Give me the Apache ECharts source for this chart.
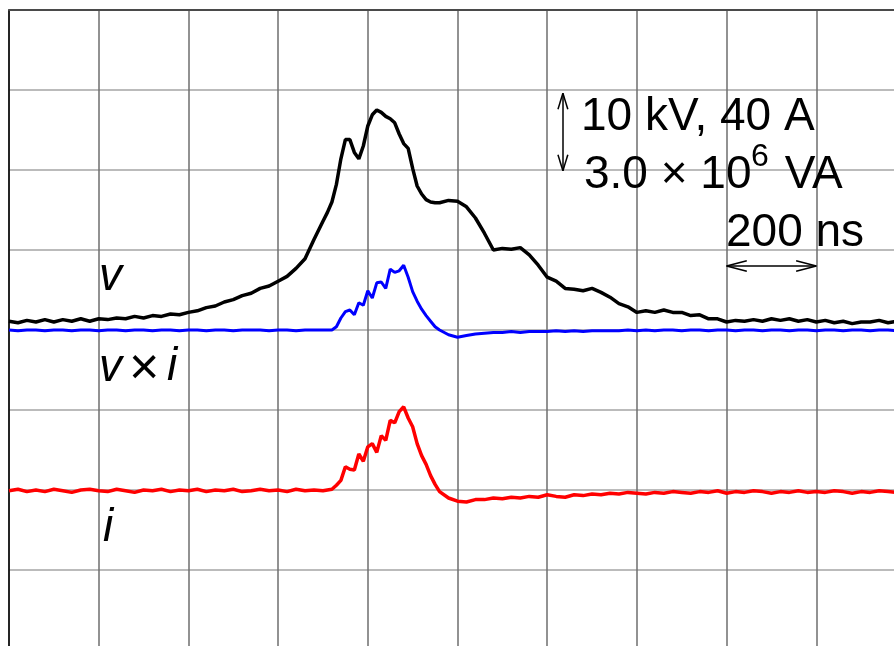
<!DOCTYPE html>
<html>
<head>
<meta charset="utf-8">
<script src="https://cdn.jsdelivr.net/npm/echarts@6/dist/echarts.min.js"></script>
<style>
  html, body { margin: 0; padding: 0; background: #fff; overflow: hidden; }
  /* the screen is 10 x 8 divisions; its right and bottom edges fall outside the 894x646 window */
  #scope { width: 906px; height: 650px; }
</style>
</head>
<body>
<div id="scope"></div>
<script>
// time base, ns (200 ns per division); finer steps across the pulse
const timeNs = [
  0, 20, 40, 60, 80, 100, 120, 140, 160, 180,
  200, 220, 240, 260, 280, 300, 320, 340, 360, 380,
  400, 420, 440, 460, 480, 500, 520, 540, 560, 580,
  600, 620, 640, 660, 680,
  700, 710, 720, 730, 740, 750, 760, 770, 780, 790,
  800, 810, 820, 830, 840, 850, 860, 870, 880, 890,
  900, 910, 920, 930, 940, 950, 960,
  980, 1000, 1020, 1040, 1060, 1080, 1100, 1120, 1140, 1160, 1180,
  1200, 1220, 1240, 1260, 1280, 1300, 1320, 1340, 1360, 1380,
  1400, 1420, 1440, 1460, 1480, 1500, 1520, 1540, 1560, 1580,
  1600, 1620, 1640, 1660, 1680, 1700, 1720, 1740, 1760, 1780,
  1800, 1820, 1840, 1860, 1880, 1900, 1920, 1940, 1960, 1980
]

// trace positions on the screen, in divisions (0 = bottom, 8 = top)
const vTrace = [
  4.11, 4.09, 4.12, 4.10, 4.13, 4.10, 4.13, 4.11, 4.14, 4.11,
  4.14, 4.13, 4.15, 4.14, 4.17, 4.15, 4.18, 4.17, 4.20, 4.19,
  4.22, 4.24, 4.28, 4.30, 4.35, 4.38, 4.43, 4.46, 4.52, 4.55,
  4.61, 4.67, 4.77, 4.89, 5.13,
  5.36, 5.47, 5.60, 5.82, 6.14, 6.38, 6.38, 6.22, 6.14, 6.30,
  6.55, 6.69, 6.75, 6.72, 6.67, 6.64, 6.59, 6.45, 6.33, 6.27,
  6.02, 5.80, 5.70, 5.63, 5.60, 5.59, 5.59,
  5.62, 5.61, 5.54, 5.40, 5.21, 5.00, 5.02, 5.01, 5.03, 4.94, 4.81,
  4.66, 4.61, 4.52, 4.51, 4.49, 4.52, 4.47, 4.41, 4.33, 4.29,
  4.22, 4.24, 4.22, 4.25, 4.22, 4.22, 4.18, 4.19, 4.14, 4.14,
  4.10, 4.12, 4.11, 4.13, 4.11, 4.14, 4.12, 4.14, 4.11, 4.13,
  4.10, 4.12, 4.09, 4.11, 4.08, 4.10, 4.10, 4.12, 4.09, 4.11
]

const viTrace = [
  4.00, 3.99, 4.00, 4.00, 3.99, 4.00, 4.00, 3.99, 4.00, 4.00,
  3.99, 4.00, 4.00, 3.99, 4.00, 4.00, 3.99, 4.00, 4.00, 3.99,
  4.00, 4.00, 3.99, 4.00, 4.00, 3.99, 4.00, 4.00, 4.00, 3.99,
  4.00, 4.00, 3.99, 4.00, 4.00,
  4.00, 4.00, 4.00, 4.04, 4.15, 4.23, 4.25, 4.19, 4.34, 4.31,
  4.49, 4.40, 4.59, 4.60, 4.52, 4.76, 4.72, 4.74, 4.81, 4.66,
  4.48, 4.36, 4.26, 4.18, 4.11, 4.04, 4.00,
  3.94, 3.91, 3.93, 3.95, 3.96, 3.97, 3.97, 3.98, 3.97, 3.98, 3.98,
  3.98, 3.99, 3.98, 3.99, 3.98, 3.99, 3.99, 3.99, 3.99, 4.00,
  3.99, 4.00, 3.99, 4.00, 4.00, 3.99, 4.00, 4.00, 3.99, 4.00,
  4.00, 3.99, 4.00, 4.00, 3.99, 4.00, 4.00, 3.99, 4.00, 4.00,
  3.99, 4.00, 4.00, 3.99, 4.00, 4.00, 3.99, 4.00, 4.00, 3.99
]

const iTrace = [
  1.99, 2.01, 1.98, 2.00, 1.98, 2.01, 1.99, 1.97, 2.00, 2.01,
  1.99, 1.98, 2.01, 1.99, 1.97, 2.00, 1.99, 2.01, 1.98, 2.00,
  1.99, 2.01, 1.98, 2.00, 1.99, 2.01, 1.98, 1.99, 2.01, 1.99,
  2.00, 1.98, 2.01, 1.99, 2.00,
  1.99, 2.00, 2.01, 2.06, 2.12, 2.29, 2.26, 2.25, 2.45, 2.36,
  2.54, 2.58, 2.47, 2.68, 2.62, 2.87, 2.84, 2.98, 3.04, 2.90,
  2.79, 2.58, 2.43, 2.32, 2.18, 2.07, 1.98,
  1.90, 1.86, 1.85, 1.88, 1.88, 1.90, 1.89, 1.91, 1.90, 1.92, 1.91,
  1.94, 1.92, 1.91, 1.94, 1.93, 1.95, 1.94, 1.96, 1.95, 1.97,
  1.96, 1.95, 1.97, 1.96, 1.98, 1.97, 1.96, 1.98, 1.97, 1.99,
  1.96, 1.98, 1.97, 1.99, 1.98, 1.96, 1.98, 1.97, 1.99, 1.97,
  1.98, 1.97, 1.99, 1.98, 1.96, 1.98, 1.97, 1.99, 1.98, 1.97
]

const font = '"Liberation Sans", Arial, sans-serif'

function pairs(ys) {
  return timeNs.map((t, k) => [t, ys[k]])
}

// scale bar arrows (data coords: ns, divisions)
function seg(a, b) {
  return [{ coord: a }, { coord: b }]
}
const scaleBars = [
  // 200 ns
  seg([1600, 4.8], [1800, 4.8]),
  seg([1600, 4.8], [1645, 4.865]),
  seg([1600, 4.8], [1645, 4.735]),
  seg([1800, 4.8], [1755, 4.865]),
  seg([1800, 4.8], [1755, 4.735]),
  // one vertical division
  seg([1235, 6.96], [1235, 5.99]),
  seg([1235, 6.96], [1224, 6.76]),
  seg([1235, 6.96], [1246, 6.76]),
  seg([1235, 5.99], [1224, 6.19]),
  seg([1235, 5.99], [1246, 6.19])
]

function label(text, x, y, size, italic) {
  return {
    type: 'text',
    x: x,
    y: y,
    z: 100,
    style: {
      text: text,
      fill: '#000',
      fontSize: size,
      fontFamily: font,
      fontStyle: italic ? 'italic' : 'normal',
      align: 'left',
      verticalAlign: 'middle'
    }
  }
}

const chart = echarts.init(document.getElementById('scope'))
const option = {
  animation: false,
  backgroundColor: '#fff',
  grid: { left: 9, top: 10, right: 0, bottom: 0, containLabel: false },
  xAxis: {
    type: 'value',
    position: 'top',
    min: 0,
    max: 2000,
    interval: 200,
    axisLine: { show: true, onZero: false, lineStyle: { color: '#4a4a4a', width: 2 } },
    axisTick: { show: false },
    axisLabel: { show: false },
    splitLine: { show: true, lineStyle: { color: '#6e6e6e', width: 1.5 } }
  },
  yAxis: {
    type: 'value',
    min: 0,
    max: 8,
    interval: 1,
    axisLine: { show: true, onZero: false, lineStyle: { color: '#000', width: 1.5 } },
    axisTick: { show: false },
    axisLabel: { show: false },
    splitLine: { show: true, lineStyle: { color: '#a4a4a4', width: 1.5 } }
  },
  series: [
    {
      name: 'v',
      type: 'line',
      data: pairs(vTrace),
      showSymbol: false,
      lineStyle: { color: '#000', width: 3.5 },
      markLine: {
        silent: true,
        symbol: ['none', 'none'],
        label: { show: false },
        lineStyle: { color: '#000', width: 1.5, type: 'solid' },
        data: scaleBars
      }
    },
    {
      name: 'v x i',
      type: 'line',
      data: pairs(viTrace),
      showSymbol: false,
      lineStyle: { color: '#0000ff', width: 3 }
    },
    {
      name: 'i',
      type: 'line',
      data: pairs(iTrace),
      showSymbol: false,
      lineStyle: { color: '#ff0000', width: 3.5 }
    }
  ],
  graphic: [
    label('10 kV, 40 A', 581, 117, 46, false),
    label('3.0 × 10', 584, 175, 46, false),
    label('6', 751, 157, 32, false),
    label(' VA', 772, 175, 46, false),
    label('200 ns', 726, 233, 46, false),
    label('v', 99, 277, 46, true),
    label('v', 99, 368, 46, true),
    label('×', 129, 370, 52, false),
    label('i', 167, 367, 46, true),
    label('i', 103, 528, 46, true)
  ]
}
option && chart.setOption(option)
</script>
</body>
</html>
